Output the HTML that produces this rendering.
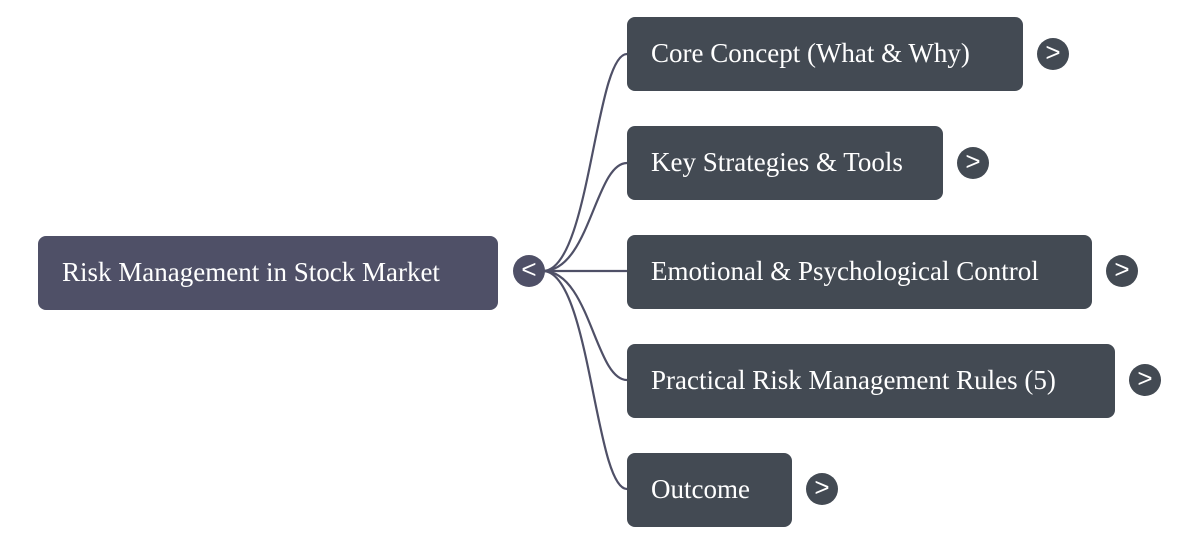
<!DOCTYPE html>
<html><head><style>
body{margin:0;width:1199px;height:545px;background:#fff;position:relative;overflow:hidden;font-family:"Liberation Serif",serif;}
.b{position:absolute;border-radius:8px;color:#fff;font-size:27px;line-height:72px;padding-left:24px;box-sizing:border-box;height:74px;}
.c{position:absolute;width:32px;height:32px;border-radius:50%;color:#fff;font-family:"Liberation Sans",sans-serif;font-size:26px;line-height:29px;text-align:center;}
</style></head><body>
<svg width="1199" height="545" style="position:absolute;left:0;top:0">
<g fill="none" stroke="#4f5067" stroke-width="2.2">
<path d="M543 271 C590 271 595 54 627 54"/>
<path d="M543 271 C590 271 595 163 627 163"/>
<path d="M543 271 L627 271"/>
<path d="M543 271 C590 271 595 380 627 380"/>
<path d="M543 271 C590 271 595 489 627 489"/>
</g></svg>
<div class="b" style="left:38px;top:236px;width:460px;background:#4f5067">Risk Management in Stock Market</div>
<div class="c" style="left:513px;top:255px;background:#4f5067">&lt;</div>
<div class="b" style="left:627px;top:17px;width:396px;background:#434a53">Core Concept (What &amp; Why)</div>
<div class="c" style="left:1037px;top:38px;background:#434a53">&gt;</div>
<div class="b" style="left:627px;top:126px;width:316px;background:#434a53">Key Strategies &amp; Tools</div>
<div class="c" style="left:957px;top:147px;background:#434a53">&gt;</div>
<div class="b" style="left:627px;top:235px;width:465px;background:#434a53">Emotional &amp; Psychological Control</div>
<div class="c" style="left:1106px;top:255px;background:#434a53">&gt;</div>
<div class="b" style="left:627px;top:344px;width:488px;background:#434a53">Practical Risk Management Rules (5)</div>
<div class="c" style="left:1129px;top:364px;background:#434a53">&gt;</div>
<div class="b" style="left:627px;top:453px;width:165px;background:#434a53">Outcome</div>
<div class="c" style="left:806px;top:473px;background:#434a53">&gt;</div>
</body></html>
